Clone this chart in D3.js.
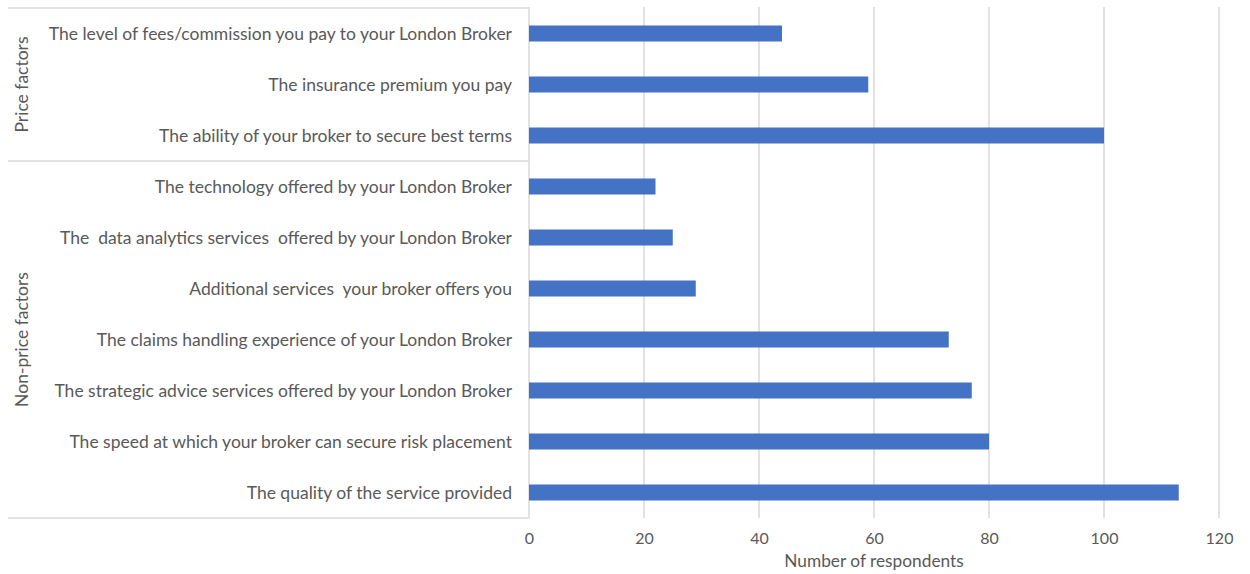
<!DOCTYPE html>
<html>
<head>
<meta charset="utf-8">
<title>Broker selection factors</title>
<script src="https://cdn.jsdelivr.net/npm/d3@7"></script>
<style>
  body { margin: 0; background: #fff; }
  svg text { font-family: Lato, "Open Sans", sans-serif; fill: #595959; }
  .grid line { stroke: #d9d9d9; stroke-width: 1.5px; }
  .frame { stroke: #d9d9d9; stroke-width: 1.5px; }
</style>
</head>
<body>
<svg id="chart" width="1250" height="574"></svg>
<script>
// data, top to bottom as in the picture
var categories = [
  "The level of fees/commission you pay to your London Broker",
  "The insurance premium you pay",
  "The ability of your broker to secure best terms",
  "The technology offered by your London Broker",
  "The  data analytics services  offered by your London Broker",
  "Additional services  your broker offers you",
  "The claims handling experience of your London Broker",
  "The strategic advice services offered by your London Broker",
  "The speed at which your broker can secure risk placement",
  "The quality of the service provided"
];
var values = [44, 59, 100, 22, 25, 29, 73, 77, 80, 113];
var groupNames = ["Price factors", "Non-price factors"];
var groupSizes = [3, 7];
var xTicks = [0, 20, 40, 60, 80, 100, 120];
var xTitle = "Number of respondents";

var svg = d3.select("#chart");
// plot box (note: "top" is taken by window.top, so use other names)
var plotL = 529, plotR = 1219, plotT = 8, plotB = 518, frameL = 8;

var x = d3.scaleLinear().domain([0, 120]).range([plotL, plotR]);
var y = d3.scaleBand().domain(categories).range([plotT, plotB])
  .paddingInner(0.686).paddingOuter(0.343);

// vertical gridlines
svg.append("g").attr("class", "grid")
  .selectAll("line").data(xTicks).enter().append("line")
  .attr("x1", function(d) { return x(d); })
  .attr("x2", function(d) { return x(d); })
  .attr("y1", plotT - 1).attr("y2", plotB);

// group frame lines on the left
var step = y.step();
var bounds = [plotT];
groupSizes.reduce(function(acc, n) { acc += n; bounds.push(plotT + acc * step); return acc; }, 0);
svg.append("g").selectAll("line").data(bounds).enter().append("line")
  .attr("class", "frame")
  .attr("x1", frameL).attr("x2", plotL)
  .attr("y1", function(d) { return d; }).attr("y2", function(d) { return d; });

// group labels
svg.append("g").selectAll("text").data(groupNames).enter().append("text")
  .attr("transform", function(d, i) {
    var cy = (bounds[i] + bounds[i + 1]) / 2;
    return "translate(28," + cy + ") rotate(-90)";
  })
  .attr("text-anchor", "middle")
  .style("font-size", "17.5px")
  .text(function(d) { return d; });

// bars
svg.append("g").selectAll("rect").data(values).enter().append("rect")
  .attr("x", x(0))
  .attr("y", function(d, i) { return y(categories[i]); })
  .attr("width", function(d) { return x(d) - x(0); })
  .attr("height", y.bandwidth())
  .attr("fill", "#4472c4");

// category labels
svg.append("g").selectAll("text").data(categories).enter().append("text")
  .attr("x", plotL - 17)
  .attr("y", function(d) { return y(d) + y.bandwidth() / 2; })
  .attr("dy", "0.35em")
  .attr("text-anchor", "end")
  .style("font-size", "17.5px")
  .style("white-space", "pre")
  .text(function(d) { return d; });

// x axis tick labels
var xAxis = d3.axisBottom(x).tickValues(xTicks).tickSize(0).tickPadding(15);
var ax = svg.append("g").attr("transform", "translate(0," + plotB + ")").call(xAxis);
ax.select(".domain").remove();
ax.selectAll("text").style("font-size", "16px").style("font-family", "Lato, 'Open Sans', sans-serif").attr("fill", "#595959");

svg.append("text")
  .attr("x", (plotL + plotR) / 2).attr("y", 567)
  .attr("text-anchor", "middle")
  .style("font-size", "17.3px")
  .text(xTitle);
</script>
</body>
</html>
